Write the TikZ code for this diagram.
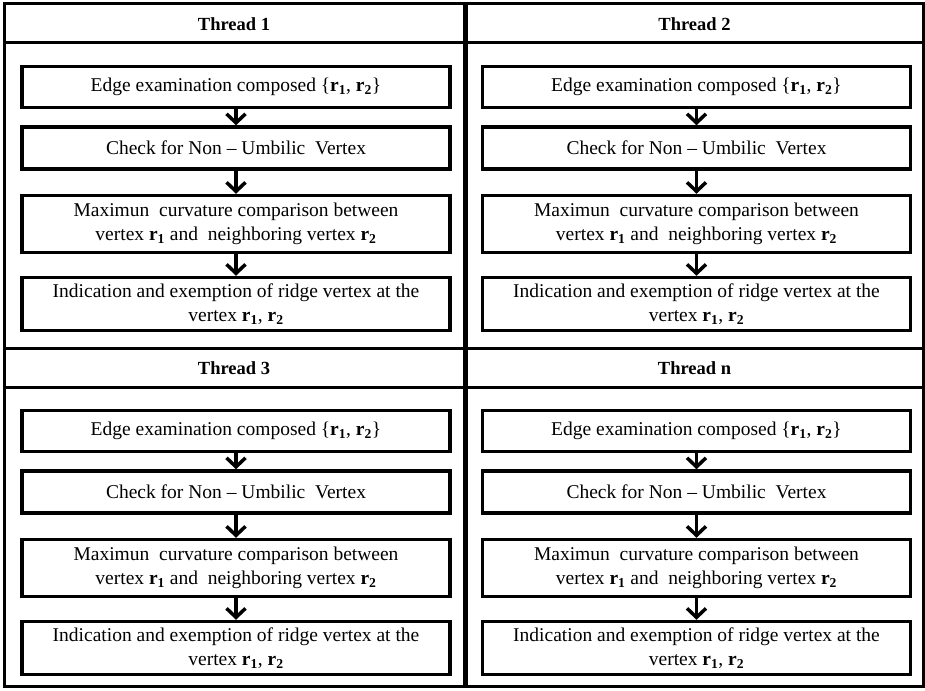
\documentclass[tikz,border=0pt]{standalone}
\usepackage{fontspec}
\setmainfont{Liberation Serif}
\usetikzlibrary{arrows.meta}

\newcommand\rv[1]{\textbf{r}\textsubscript{\textbf{#1}}}

\begin{document}
\begin{tikzpicture}[x=1pt, y=-1pt,
    frame/.style={line width=3pt},
    head/.style={font=\bfseries\fontsize{18.5}{21}\selectfont},
    stepbox/.style={draw, line width=3.5pt, minimum width=428pt, inner sep=0pt,
      align=center, font=\fontsize{19.5}{24}\selectfont},
    flow/.style={line width=3.5pt, -{Straight Barb[length=9pt, width=19pt, line width=3.5pt]}}]
    \useasboundingbox (0,0) rectangle (925,690);

    % one panel: left, top, right, bottom, name, title
    \newcommand\threadpanel[6]{%
        \draw[frame] (#1,#2) rectangle (#3,#4);
        \draw[frame] (#1,#2+39) -- (#3,#2+39);
        \node[head] (#5h) at ({(#1+#3)/2}, #2+20) {#6};
        \node[stepbox, minimum height=41pt] (#5a) at ({(#1+#3)/2+2}, #2+83)
            {Edge examination composed \{\rv1, \rv2\}};
        \node[stepbox, minimum height=42pt] (#5b) at ({(#1+#3)/2+2}, #2+144)
            {Check for Non -- Umbilic\ \ Vertex};
        \node[stepbox, minimum height=57pt] (#5c) at ({(#1+#3)/2+2}, #2+220)
            {Maximun\ \ curvature comparison between\\ vertex \rv1 and\ \ neighboring vertex \rv2};
        \node[stepbox, minimum height=53pt] (#5d) at ({(#1+#3)/2+2}, #2+300)
            {Indication and exemption of ridge vertex at the\\ vertex \rv1, \rv2};
        % arrows
        \draw[flow] (#5a) -- (#5b);
        \draw[flow] (#5b) -- (#5c);
        \draw[flow] (#5c) -- (#5d);
    }

    \threadpanel{4}{4}{464}{348}{t1}{Thread 1}
    \threadpanel{466}{4}{923}{348}{t2}{Thread 2}
    \threadpanel{4}{348}{464}{686}{t3}{Thread 3}
    \threadpanel{466}{348}{923}{686}{tn}{Thread n}
\end{tikzpicture}
\end{document}
